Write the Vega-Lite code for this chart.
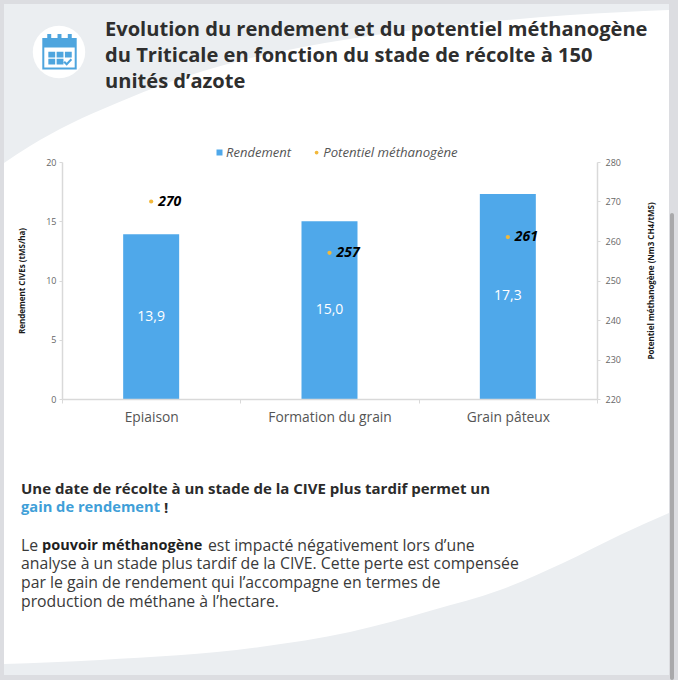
{
  "$schema": "https://vega.github.io/schema/vega-lite/v6.json",
  "width": 535,
  "height": 237,
  "autosize": "none",
  "padding": {"left": 62, "top": 162, "right": 81, "bottom": 281},
  "background": "#dcdde1",
  "title": {
    "text": ["Evolution du rendement et du potentiel méthanogène", "du Triticale en fonction du stade de récolte à 150", "unités d’azote"],
    "anchor": "start",
    "frame": "group",
    "dx": 43,
    "offset": -88,
    "font": "Open Sans",
    "fontSize": 20.1,
    "fontWeight": "bold",
    "color": "#2e2e2e",
    "lineHeight": 26,
    "zindex": 1
  },
  "config": {
    "font": "Open Sans",
    "view": {"stroke": null},
    "locale": {"number": {"decimal": ",", "thousands": " ", "grouping": [3], "currency": ["", " €"]}}
  },
  "data": {
    "values": [
      {"stade": "Epiaison", "rendement": 13.9, "potentiel": 270},
      {"stade": "Formation du grain", "rendement": 15.0, "potentiel": 257},
      {"stade": "Grain pâteux", "rendement": 17.3, "potentiel": 261}
    ]
  },
  "resolve": {"scale": {"x": "independent", "y": "independent"}, "axis": {"x": "independent", "y": "independent"}},
  "layer": [
    {
      "layer": [
        {
          "data": {"values": [{"gauche": 4, "droite": 669, "haut": 4, "bas": 675}]},
          "mark": {"type": "rect", "fill": "#ffffff"},
          "encoding": {
            "x": {"field": "gauche", "type": "quantitative", "axis": null, "scale": {"domain": [0, 678], "range": [-62, 616], "nice": false, "zero": false}},
            "x2": {"field": "droite"},
            "y": {"field": "haut", "type": "quantitative", "axis": null, "scale": {"domain": [0, 680], "range": [-162, 518], "nice": false, "zero": false}},
            "y2": {"field": "bas"}
          }
        },
        {
          "data": {"values": [
            {"px": 4, "courbe": 163, "bord": 4},
            {"px": 30, "courbe": 146, "bord": 4},
            {"px": 70, "courbe": 124, "bord": 4},
            {"px": 117, "courbe": 103, "bord": 4},
            {"px": 170, "courbe": 82, "bord": 4},
            {"px": 235, "courbe": 62, "bord": 4},
            {"px": 303, "courbe": 47, "bord": 4},
            {"px": 390, "courbe": 33, "bord": 4},
            {"px": 476, "courbe": 23, "bord": 4},
            {"px": 570, "courbe": 15, "bord": 4},
            {"px": 669, "courbe": 10, "bord": 4}
          ]},
          "mark": {"type": "area", "color": "#ebeef1", "interpolate": "monotone"},
          "encoding": {
            "x": {"field": "px", "type": "quantitative", "axis": null},
            "y": {"field": "courbe", "type": "quantitative", "axis": null},
            "y2": {"field": "bord"}
          }
        },
        {
          "data": {"values": [
            {"px": 4, "courbe": 664, "bord": 675},
            {"px": 100, "courbe": 660, "bord": 675},
            {"px": 260, "courbe": 647, "bord": 675},
            {"px": 350, "courbe": 632, "bord": 675},
            {"px": 433, "courbe": 610, "bord": 675},
            {"px": 500, "courbe": 590, "bord": 675},
            {"px": 563, "courbe": 563, "bord": 675},
            {"px": 620, "courbe": 535, "bord": 675},
            {"px": 669, "courbe": 513, "bord": 675}
          ]},
          "mark": {"type": "area", "color": "#ebeef1", "interpolate": "monotone"},
          "encoding": {
            "x": {"field": "px", "type": "quantitative", "axis": null},
            "y": {"field": "courbe", "type": "quantitative", "axis": null},
            "y2": {"field": "bord"}
          }
        },
        {
          "data": {"values": [{"gauche": 670, "droite": 674, "haut": 213, "bas": 680}]},
          "mark": {"type": "rect", "fill": "#a9a9ab", "cornerRadius": 2},
          "encoding": {
            "x": {"field": "gauche", "type": "quantitative", "axis": null},
            "x2": {"field": "droite"},
            "y": {"field": "haut", "type": "quantitative", "axis": null},
            "y2": {"field": "bas"}
          }
        },
        {
          "data": {"values": [{"px": 59, "py": 52}]},
          "mark": {"type": "point", "shape": "circle", "filled": true, "fill": "#ffffff", "opacity": 1, "size": 2750},
          "encoding": {
            "x": {"field": "px", "type": "quantitative", "axis": null},
            "y": {"field": "py", "type": "quantitative", "axis": null}
          }
        },
        {
          "data": {"values": [{"px": 59.5, "py": 52}]},
          "mark": {"type": "point", "shape": "M-0.9,-0.72H0.9V0.92H-0.9Z", "filled": false, "stroke": "#4ea5de", "strokeWidth": 2, "opacity": 1, "size": 1296},
          "encoding": {
            "x": {"field": "px", "type": "quantitative", "axis": null},
            "y": {"field": "py", "type": "quantitative", "axis": null}
          }
        },
        {
          "data": {"values": [{"px": 59.5, "py": 52}]},
          "mark": {"type": "point", "shape": "M-0.9,-0.72H0.9V-0.25H-0.9ZM-0.68,-1H-0.46V-0.55H-0.68ZM-0.11,-1H0.11V-0.55H-0.11ZM0.46,-1H0.68V-0.55H0.46ZM-0.62,-0.02H-0.24V0.3H-0.62ZM-0.16,-0.02H0.22V0.3H-0.16ZM0.3,-0.02H0.68V0.3H0.3ZM-0.62,0.38H-0.24V0.7H-0.62ZM-0.16,0.38H0.22V0.7H-0.16ZM0.3,0.5L0.4,0.6L0.62,0.36L0.7,0.44L0.4,0.76L0.22,0.58Z", "filled": true, "fill": "#4ea5de", "opacity": 1, "size": 1296},
          "encoding": {
            "x": {"field": "px", "type": "quantitative", "axis": null},
            "y": {"field": "py", "type": "quantitative", "axis": null}
          }
        }
      ]
    },
    {
      "data": {"values": [
        {"ligne": 1, "texte": "Une date de récolte à un stade de la CIVE plus tardif permet un"}
      ]},
      "mark": {"type": "text", "align": "left", "baseline": "middle", "fontSize": 15, "fontWeight": "bold", "color": "#2b2b2b"},
      "encoding": {
        "x": {"datum": 21, "type": "quantitative", "axis": null, "scale": {"domain": [0, 678], "range": [-62, 616], "nice": false, "zero": false}},
        "y": {"field": "ligne", "type": "ordinal", "axis": null, "scale": {"type": "point", "domain": [1, 2, 3, 4, 5, 6, 7], "range": [327, 440], "padding": 0}},
        "text": {"field": "texte"}
      }
    },
    {
      "data": {"values": [
        {"ligne": 2, "texte": "gain de rendement"}
      ]},
      "mark": {"type": "text", "align": "left", "baseline": "middle", "fontSize": 14.7, "fontWeight": "bold", "color": "#3f9fd8"},
      "encoding": {
        "x": {"datum": 21, "type": "quantitative", "axis": null, "scale": {"domain": [0, 678], "range": [-62, 616], "nice": false, "zero": false}},
        "y": {"field": "ligne", "type": "ordinal", "axis": null, "scale": {"type": "point", "domain": [1, 2, 3, 4, 5, 6, 7], "range": [327, 440], "padding": 0}},
        "text": {"field": "texte"}
      }
    },
    {
      "data": {"values": [
        {"ligne": 2, "texte": "!"}
      ]},
      "mark": {"type": "text", "align": "left", "baseline": "middle", "fontSize": 15, "fontWeight": "bold", "color": "#2b2b2b", "dx": 143},
      "encoding": {
        "x": {"datum": 21, "type": "quantitative", "axis": null, "scale": {"domain": [0, 678], "range": [-62, 616], "nice": false, "zero": false}},
        "y": {"field": "ligne", "type": "ordinal", "axis": null, "scale": {"type": "point", "domain": [1, 2, 3, 4, 5, 6, 7], "range": [327, 440], "padding": 0}},
        "text": {"field": "texte"}
      }
    },
    {
      "data": {"values": [
        {"ligne": 4, "texte": "Le"},
        {"ligne": 5, "texte": "analyse à un stade plus tardif de la CIVE. Cette perte est compensée"},
        {"ligne": 6, "texte": "par le gain de rendement qui l’accompagne en termes de"},
        {"ligne": 7, "texte": "production de méthane à l’hectare."}
      ]},
      "mark": {"type": "text", "align": "left", "baseline": "middle", "fontSize": 15.8, "color": "#3a3a3a"},
      "encoding": {
        "x": {"datum": 21, "type": "quantitative", "axis": null, "scale": {"domain": [0, 678], "range": [-62, 616], "nice": false, "zero": false}},
        "y": {"field": "ligne", "type": "ordinal", "axis": null, "scale": {"type": "point", "domain": [1, 2, 3, 4, 5, 6, 7], "range": [327, 440], "padding": 0}},
        "text": {"field": "texte"}
      }
    },
    {
      "data": {"values": [
        {"ligne": 4, "texte": "pouvoir méthanogène"}
      ]},
      "mark": {"type": "text", "align": "left", "baseline": "middle", "fontSize": 14.5, "fontWeight": "bold", "color": "#1f1f1f", "dx": 21},
      "encoding": {
        "x": {"datum": 21, "type": "quantitative", "axis": null, "scale": {"domain": [0, 678], "range": [-62, 616], "nice": false, "zero": false}},
        "y": {"field": "ligne", "type": "ordinal", "axis": null, "scale": {"type": "point", "domain": [1, 2, 3, 4, 5, 6, 7], "range": [327, 440], "padding": 0}},
        "text": {"field": "texte"}
      }
    },
    {
      "data": {"values": [
        {"ligne": 4, "texte": "est impacté négativement lors d’une"}
      ]},
      "mark": {"type": "text", "align": "left", "baseline": "middle", "fontSize": 15.8, "color": "#3a3a3a", "dx": 187},
      "encoding": {
        "x": {"datum": 21, "type": "quantitative", "axis": null, "scale": {"domain": [0, 678], "range": [-62, 616], "nice": false, "zero": false}},
        "y": {"field": "ligne", "type": "ordinal", "axis": null, "scale": {"type": "point", "domain": [1, 2, 3, 4, 5, 6, 7], "range": [327, 440], "padding": 0}},
        "text": {"field": "texte"}
      }
    },
    {
      "mark": {"type": "bar", "width": {"band": 0.314}},
      "encoding": {
        "x": {
          "field": "stade",
          "type": "nominal",
          "sort": null,
          "title": null,
          "scale": {"paddingInner": 0, "paddingOuter": 0},
          "axis": {
            "orient": "bottom",
            "zindex": 1,
            "labelAngle": 0,
            "labelFontSize": 13.8,
            "labelColor": "#555555",
            "labelPadding": 7,
            "tickBand": "extent",
            "tickSize": 4,
            "tickColor": "#d9d9d9",
            "domainColor": "#d9d9d9",
            "domainWidth": 1.5
          }
        },
        "y": {
          "field": "rendement",
          "type": "quantitative",
          "title": "Rendement CIVEs (tMS/ha)",
          "scale": {"domain": [0, 20], "nice": false},
          "axis": {
            "orient": "left",
            "zindex": 1,
            "values": [0, 5, 10, 15, 20],
            "grid": false,
            "labelFontSize": 9,
            "labelColor": "#666666",
            "labelPadding": 3,
            "tickSize": 3,
            "tickColor": "#d9d9d9",
            "domainColor": "#d9d9d9",
            "domainWidth": 1.5,
            "titleFontSize": 8,
            "titleFontWeight": "bold",
            "titleColor": "#1a1a1a",
            "titlePadding": 19
          }
        },
        "color": {
          "datum": "Rendement",
          "legend": {
            "orient": "none",
            "legendX": 151,
            "legendY": -16,
            "title": null,
            "symbolType": "square",
            "symbolSize": 36,
            "labelOffset": 0,
            "labelFontSize": 13,
            "labelFontStyle": "italic",
            "labelColor": "#555555"
          },
          "scale": {"domain": ["Rendement"], "range": ["#4fa8ea"]}
        }
      }
    },
    {
      "mark": {"type": "text", "color": "#ffffff", "fontSize": 14, "baseline": "middle"},
      "encoding": {
        "x": {"field": "stade", "type": "nominal", "sort": null, "axis": null, "scale": {"paddingInner": 0, "paddingOuter": 0}},
        "y": {"field": "rendement", "type": "quantitative", "axis": null, "scale": {"domain": [0, 40], "nice": false}},
        "text": {"field": "rendement", "type": "quantitative", "format": ".1f"}
      }
    },
    {
      "mark": {"type": "point", "filled": true, "opacity": 1, "size": 18},
      "encoding": {
        "x": {"field": "stade", "type": "nominal", "sort": null, "axis": null, "scale": {"paddingInner": 0, "paddingOuter": 0}},
        "y": {
          "field": "potentiel",
          "type": "quantitative",
          "title": "Potentiel méthanogène (Nm3 CH4/tMS)",
          "scale": {"domain": [220, 280], "nice": false, "zero": false},
          "axis": {
            "orient": "right",
            "zindex": 1,
            "values": [220, 230, 240, 250, 260, 270, 280],
            "grid": false,
            "labelFontSize": 9,
            "labelColor": "#666666",
            "labelPadding": 5,
            "tickSize": 3,
            "tickColor": "#d9d9d9",
            "domainColor": "#d9d9d9",
            "domainWidth": 1.5,
            "titleFontSize": 8,
            "titleFontWeight": "bold",
            "titleColor": "#1a1a1a",
            "titleAngle": 270,
            "titlePadding": 35
          }
        },
        "fill": {
          "datum": "Potentiel méthanogène",
          "legend": {
            "orient": "none",
            "legendX": 248,
            "legendY": -16,
            "title": null,
            "symbolType": "circle",
            "symbolSize": 14,
            "labelOffset": 0,
            "labelFontSize": 13.2,
            "labelFontStyle": "italic",
            "labelColor": "#555555"
          },
          "scale": {"domain": ["Potentiel méthanogène"], "range": ["#f2b83a"]}
        }
      }
    },
    {
      "mark": {"type": "text", "align": "left", "baseline": "middle", "dx": 7, "fontSize": 14, "fontWeight": "bold", "fontStyle": "italic", "color": "#000000"},
      "encoding": {
        "x": {"field": "stade", "type": "nominal", "sort": null, "axis": null, "scale": {"paddingInner": 0, "paddingOuter": 0}},
        "y": {"field": "potentiel", "type": "quantitative", "axis": null, "scale": {"domain": [220, 280], "nice": false, "zero": false}},
        "text": {"field": "potentiel", "type": "quantitative"}
      }
    }
  ]
}
